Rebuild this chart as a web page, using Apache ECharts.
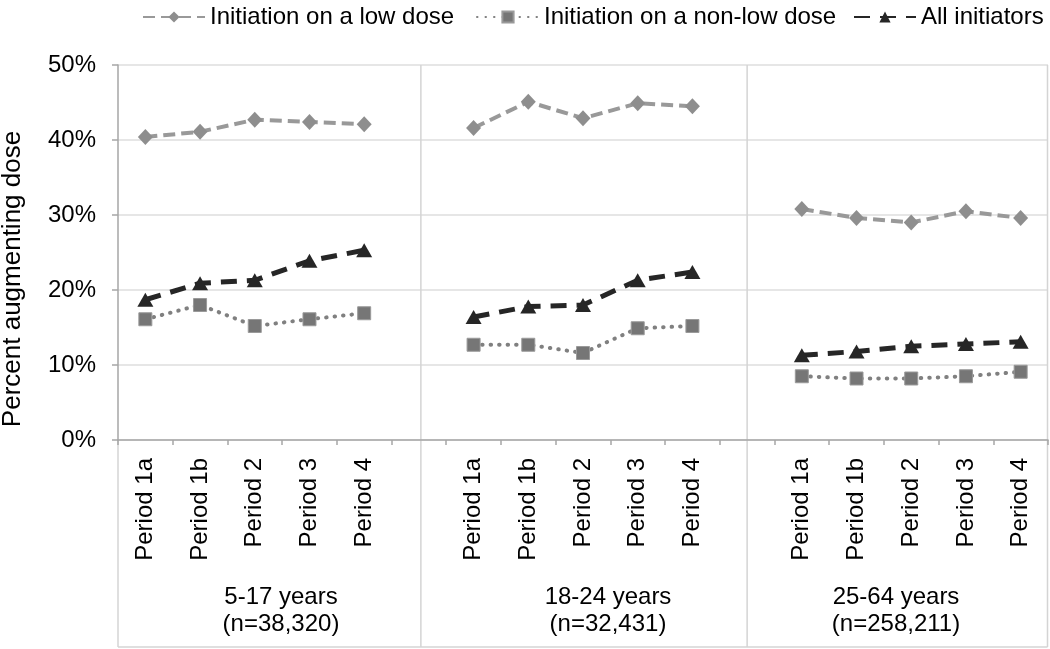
<!DOCTYPE html>
<html><head><meta charset="utf-8">
<script src="https://cdn.jsdelivr.net/npm/echarts@6/dist/echarts.min.js"></script>
<style>html,body{margin:0;padding:0;background:#fff}#c{width:1050px;height:649px}</style>
</head><body><div id="c"></div>
<script>
const categories = ['Period 1a','Period 1b','Period 2','Period 3','Period 4','',
                    'Period 1a','Period 1b','Period 2','Period 3','Period 4','',
                    'Period 1a','Period 1b','Period 2','Period 3','Period 4'];
const seriesNames = ['Initiation on a low dose','Initiation on a non-low dose','All initiators'];
const lowDose    = [40.4,41.1,42.7,42.4,42.1,null,41.6,45.1,42.9,44.9,44.5,null,30.8,29.6,29.0,30.5,29.6];
const nonLowDose = [16.1,18.0,15.2,16.1,16.9,null,12.7,12.7,11.6,14.9,15.2,null,8.5,8.2,8.2,8.5,9.1];
const allInit    = [18.7,20.9,21.3,23.9,25.3,null,16.4,17.8,18.0,21.3,22.4,null,11.3,11.8,12.5,12.8,13.1];
const groupLabels = ['5-17 years\n(n=38,320)','18-24 years\n(n=32,431)','25-64 years\n(n=258,211)'];
const yAxisTitle = 'Percent augmenting dose';

const FONT = '"Liberation Sans", Arial, sans-serif';
const chart = echarts.init(document.getElementById('c'), null, {renderer:'canvas'});
const legendText = {fontSize:24, color:'#000', fontFamily:FONT};
const option = {
  animation:false,
  backgroundColor:'#fff',
  grid:{left:118, right:2, top:65, bottom:209, containLabel:false},
  legend:[
    {data:[seriesNames[0]], left:137, top:0, itemWidth:62, itemHeight:14, textStyle:legendText},
    {data:[seriesNames[1]], left:471, top:0, itemWidth:62, itemHeight:14, textStyle:legendText},
    {data:[seriesNames[2]], left:848, top:0, itemWidth:62, itemHeight:14, textStyle:legendText}
  ],
  xAxis:{
    type:'category', data:categories, boundaryGap:true,
    axisLine:{lineStyle:{color:'#a6a6a6', width:1.5}},
    axisTick:{show:true, length:5, interval:0, lineStyle:{color:'#a6a6a6', width:1.5}},
    axisLabel:{interval:0, rotate:90, margin:18, fontSize:24, color:'#000', fontFamily:FONT},
    splitLine:{show:false}
  },
  yAxis:{
    type:'value', min:0, max:50, interval:10,
    axisLine:{show:true, lineStyle:{color:'#a6a6a6', width:1.5}},
    axisTick:{show:true, length:6, lineStyle:{color:'#a6a6a6', width:1.5}},
    axisLabel:{formatter:'{value}%', margin:22, fontSize:24, color:'#000', fontFamily:FONT},
    splitLine:{show:true, lineStyle:{color:'#dedede', width:1.5}}
  },
  series:[
    {name:seriesNames[0], type:'line', data:lowDose, connectNulls:false,
     symbol:'diamond', symbolSize:[15,16],
     itemStyle:{color:'#8e8e8e'},
     lineStyle:{color:'#999999', width:4, type:[12,6]}},
    {name:seriesNames[1], type:'line', data:nonLowDose, connectNulls:false,
     symbol:'rect', symbolSize:13,
     itemStyle:{color:'#767676', borderColor:'#9a9a9a', borderWidth:1},
     lineStyle:{color:'#808080', width:4, type:[0.5,8], cap:'round'}},
    {name:seriesNames[2], type:'line', data:allInit, connectNulls:false,
     symbol:'triangle', symbolSize:[16,14],
     itemStyle:{color:'#262626'},
     lineStyle:{color:'#262626', width:5, type:[16,10]}}
  ]
};
chart.setOption(option);

const xAt = i => chart.convertToPixel({xAxisIndex:0}, i);
const topY = 65, axisY = 440, boxBottom = 647, leftX = 118, rightX = 1047.5;
const lineStyle = {stroke:'#d4d4d4', lineWidth:1.5};
const sep1 = xAt(5) + 2, sep2 = xAt(11);
const graphics = [
  {type:'line', shape:{x1:sep1, y1:topY, x2:sep1, y2:boxBottom}, style:lineStyle, silent:true},
  {type:'line', shape:{x1:sep2, y1:topY, x2:sep2, y2:boxBottom}, style:lineStyle, silent:true},
  {type:'line', shape:{x1:rightX, y1:topY, x2:rightX, y2:boxBottom}, style:lineStyle, silent:true},
  {type:'line', shape:{x1:leftX, y1:axisY, x2:leftX, y2:boxBottom}, style:lineStyle, silent:true},
  {type:'line', shape:{x1:leftX, y1:boxBottom, x2:rightX, y2:boxBottom}, style:lineStyle, silent:true},
  {type:'text', x:13, y:279, rotation:Math.PI/2, silent:true,
   style:{text:yAxisTitle, fontSize:26, fontFamily:FONT, fill:'#000', align:'center', verticalAlign:'middle'}}
];
const groupX = [281, 608, 896];
groupLabels.forEach((t, i) => {
  graphics.push({type:'text', x:groupX[i], y:611, silent:true,
    style:{text:t, fontSize:24, fontFamily:FONT, fill:'#000', align:'center', verticalAlign:'middle', lineHeight:27}});
});
chart.setOption({graphic:graphics});
</script>
</body></html>
